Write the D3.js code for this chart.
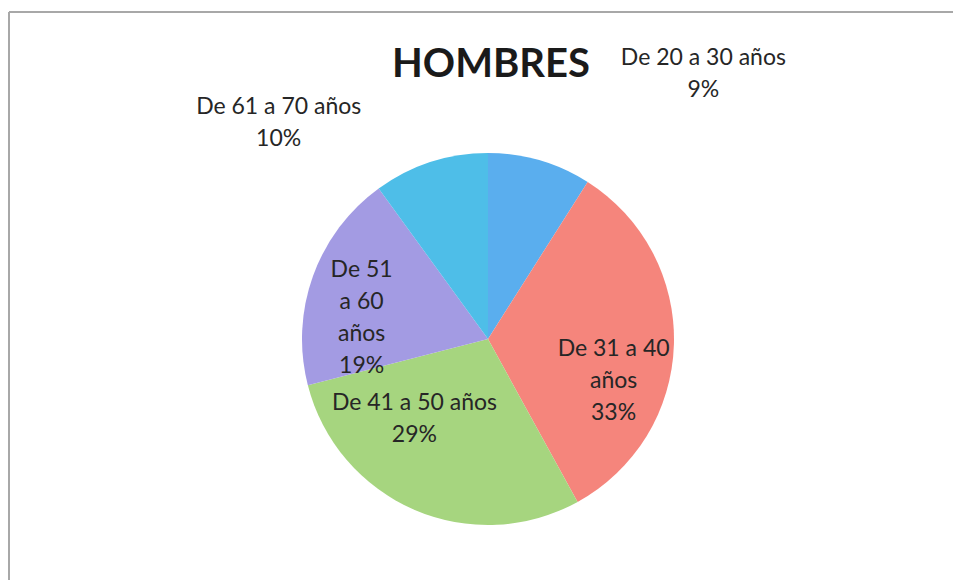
<!DOCTYPE html>
<html>
<head>
<meta charset="utf-8">
<script src="https://cdn.jsdelivr.net/npm/d3@7"></script>
<style>
  body { margin: 0; background: #fff; }
  svg { display: block; }
  text { font-family: Lato, "Open Sans", sans-serif; fill: #262626; }
</style>
</head>
<body>
<div id="wrapper"></div>
<script>
// datos del gráfico
const categories = ["De 20 a 30 años", "De 31 a 40 años", "De 41 a 50 años", "De 51 a 60 años", "De 61 a 70 años"];
const values = [9, 33, 29, 19, 10];
const labelLines = [
    ["De 20 a 30 años", "9%"],
    ["De 31 a 40", "años", "33%"],
    ["De 41 a 50 años", "29%"],
    ["De 51", "a 60", "años", "19%"],
    ["De 61 a 70 años", "10%"]
];
const colors = ["#5aaeee", "#f5857c", "#a6d57f", "#a39be3", "#4ebee8"];
// posición de etiquetas: radio relativo y ángulo (grados)
const labelPlacement = [
    { r: 1.84, a: 39 },
    { r: 0.71, a: 108 },
    { r: 0.58, a: 223 },
    { r: 0.69, a: 280 },
    { r: 1.62, a: 316 }
];

function buildChart() {
    const dimensions = { width: 953, height: 580 };
    const center = { x: 488, y: 339 };
    const radius = 186;

    const wrapper = d3.select("#wrapper")
        .append("svg")
        .attr("width", dimensions.width)
        .attr("height", dimensions.height);

    // marco
    wrapper.append("line")
        .attr("x1", 9).attr("x2", dimensions.width)
        .attr("y1", 12).attr("y2", 12)
        .attr("stroke", "#a8a8a8").attr("stroke-width", 2);
    wrapper.append("line")
        .attr("x1", 9).attr("x2", 9)
        .attr("y1", 12).attr("y2", dimensions.height)
        .attr("stroke", "#a8a8a8").attr("stroke-width", 2);

    const data = categories.map((c, i) => ({ name: c, value: values[i], i }));

    const pie = d3.pie()
        .sort(null)
        .value(d => d.value);
    const arcs = pie(data);

    const arc = d3.arc()
        .innerRadius(0)
        .outerRadius(radius);

    const bounds = wrapper.append("g")
        .attr("transform", `translate(${center.x},${center.y})`);

    bounds.selectAll("path")
        .data(arcs)
        .join("path")
        .attr("d", arc)
        .attr("fill", d => colors[d.data.i]);

    // etiquetas
    const lineHeight = 32;
    const labels = bounds.selectAll("text.label")
        .data(arcs)
        .join("text")
        .attr("class", "label")
        .attr("text-anchor", "middle")
        .style("font-size", "23px")
        .attr("transform", d => {
            const p = labelPlacement[d.data.i];
            const ang = p.a * Math.PI / 180;
            const x = Math.sin(ang) * radius * p.r;
            const y = -Math.cos(ang) * radius * p.r;
            return `translate(${x},${y})`;
        });

    labels.each(function (d) {
        const lines = labelLines[d.data.i];
        const offset = -((lines.length - 1) * lineHeight) / 2;
        d3.select(this).selectAll("tspan")
            .data(lines)
            .join("tspan")
            .attr("x", 0)
            .attr("y", (l, k) => offset + k * lineHeight)
            .attr("dy", "0.35em")
            .text(l => l);
    });

    // título
    wrapper.append("text")
        .attr("x", 491)
        .attr("y", 77)
        .attr("text-anchor", "middle")
        .style("font-size", "40px")
        .style("font-weight", "bold")
        .style("fill", "#1a1a1a")
        .text("HOMBRES");
}

buildChart();
</script>
</body>
</html>
